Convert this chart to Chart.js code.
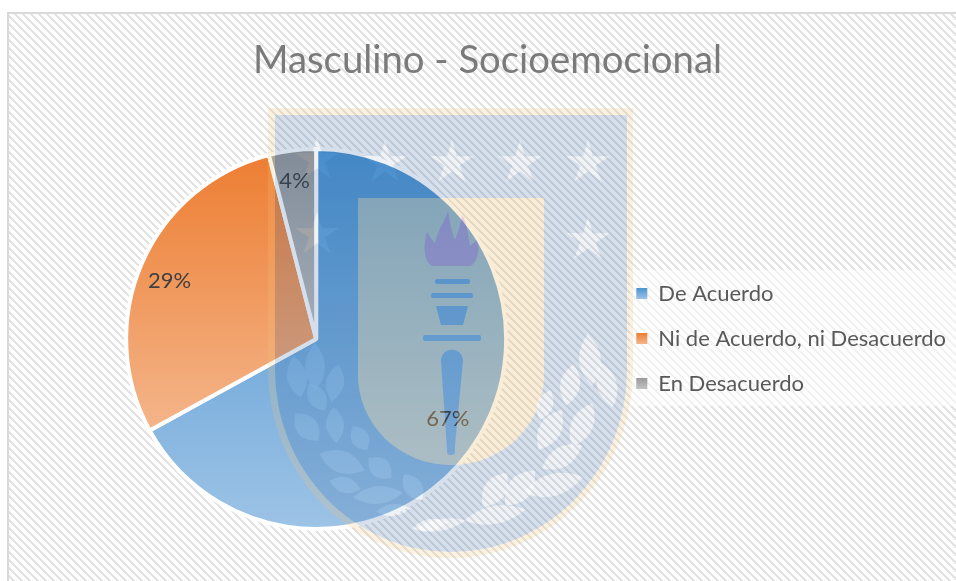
<!DOCTYPE html>
<html><head><meta charset="utf-8">
<style>html,body{margin:0;padding:0;background:#fff}canvas{display:block}</style>
<script src="https://cdn.jsdelivr.net/npm/chart.js@4"></script>
</head><body>
<div style="width:956px;height:581px"><canvas id="c" width="956" height="581"></canvas></div>
<script>
const titleText = "Masculino - Socioemocional";
const categories = ["De Acuerdo", "Ni de Acuerdo, ni Desacuerdo", "En Desacuerdo"];
const values = [67, 29, 4];
const labelsPct = ["67%", "29%", "4%"];
const gradTop = ["#4c93d0", "#ed7d31", "#9a9a9a"];
const gradBottom = ["#9dc3e6", "#f4b58a", "#c2c2c2"];
const gradSpan = [1, 0.74, 0.5];
const legendBoxY = [288, 333, 378];

function stripePattern(ctx){
  const t=document.createElement('canvas');t.width=8;t.height=8;
  const g=t.getContext('2d');g.fillStyle='#fff';g.fillRect(0,0,8,8);
  g.fillStyle='#e3e3e3';
  for(let i=0;i<8;i++){for(let k=0;k<3;k++){g.fillRect((i+k)%8,i,1,1);}}
  return ctx.createPattern(t,'repeat');
}
function buildWatermark(){
  const o=document.createElement('canvas');o.width=956;o.height=581;
  const g=o.getContext('2d');
  const shield=(l,t,r,b,sy)=>{const cx=(l+r)/2,rx=(r-l)/2;
    g.beginPath();g.moveTo(l,t);g.lineTo(r,t);g.lineTo(r,sy);
    g.ellipse(cx,sy,rx,b-sy,0,0,Math.PI);g.closePath();};
  const paint=c=>{g.globalCompositeOperation='destination-out';g.fillStyle='#000';g.fill();
    g.globalCompositeOperation='source-over';g.fillStyle=c;g.fill();};
  const ORANGE='rgba(240,195,125,.22)',PANEL='rgba(240,195,125,.3)',BLUE='rgba(26,84,150,.18)',FLAME='rgba(192,115,167,.4)';
  shield(268,108,633,558,370);paint(ORANGE);
  shield(275,115,627,552,370);paint(BLUE);
  shield(358,198,544,465,375);paint(PANEL);
  const cut=()=>{g.globalCompositeOperation='destination-out';g.fillStyle='rgba(0,0,0,.6)';g.fill();g.globalCompositeOperation='source-over';};
  const star=(x,y,R)=>{g.beginPath();for(let i=0;i<10;i++){const r=i%2?R*.36:R,a=-Math.PI/2+i*Math.PI/5;
    g[i?'lineTo':'moveTo'](x+r*Math.cos(a),y+r*Math.sin(a));}g.closePath();cut();};
  [[317,160],[385,163],[452,163],[520,163],[588,163],[317,235],[588,240]].forEach(s=>star(s[0],s[1],23));
  const leaf=(x,y,len,w,ang)=>{g.save();g.translate(x,y);g.rotate(ang*Math.PI/180);g.beginPath();
    g.moveTo(-len/2,0);g.quadraticCurveTo(0,-w,len/2,0);g.quadraticCurveTo(0,w,-len/2,0);g.closePath();g.restore();cut();};
  const L=[[297,377,42,20,80],[315,367,48,20,90],[335,383,38,18,100],[317,397,32,18,60],[307,427,36,22,50],[335,425,36,18,85],
    [360,438,28,18,60],[342,462,48,22,20],[380,468,30,20,40],[345,485,32,16,15],[378,495,50,18,-5],[413,487,32,18,55],[393,510,34,12,-5],[430,525,36,12,-10]];
  const R=[[590,360,52,22,85],[607,385,46,20,75],[570,385,42,20,100],[550,430,46,22,120],[582,425,48,22,115],[545,405,32,16,110],
    [562,457,46,20,150],[553,485,62,22,165],[520,488,46,24,130],[495,490,42,22,125],[495,515,62,18,170],[440,525,52,12,170]];
  L.concat(R).forEach(l=>leaf(l[0],l[1],l[2],l[3],l[4]));
  // torch
  const rect=(x,y,w,h,r)=>{g.beginPath();g.roundRect(x,y,w,h,r);};
  rect(435,279,35,5,2);paint(BLUE);rect(431,293,42,5,2);paint(BLUE);
  g.beginPath();g.moveTo(436,306);g.lineTo(468,306);g.lineTo(463,325);g.lineTo(441,325);g.closePath();paint(BLUE);
  rect(423,335,58,6,2);paint(BLUE);
  g.beginPath();g.moveTo(441,361);g.bezierCurveTo(441,346,463,346,463,361);g.lineTo(455,445);g.arc(451,451,4,-0.2,Math.PI+0.2);g.lineTo(441,361);g.closePath();paint(BLUE);
  g.beginPath();g.moveTo(432,266);g.bezierCurveTo(424,262,423,245,427,232);g.lineTo(435,244);
  g.bezierCurveTo(437,230,445,222,448,211);g.bezierCurveTo(450,225,452,232,455,240);
  g.bezierCurveTo(458,232,461,225,462,215);g.bezierCurveTo(468,225,468,238,470,246);
  g.lineTo(477,240);g.bezierCurveTo(480,250,478,262,470,266);g.closePath();paint(FLAME);
  return o;
}
const scenery={id:'scenery',
  beforeDraw(c){const x=c.ctx;x.save();
    x.fillStyle='#fff';x.fillRect(0,0,956,581);
    x.fillStyle=stripePattern(x);x.fillRect(7,12,949,569);
    x.fillStyle='rgba(255,255,255,.55)';x.fillRect(630,270,326,136);
    x.fillStyle='#d9d9d9';x.fillRect(7,12,949,2);x.fillRect(7,12,2,569);
    x.restore();},
  afterLayout(c){c.legend.left+=5;c.legend.right+=5;c.legend.top+=75;c.legend.bottom+=75;},
  afterDatasetsDraw(c){const x=c.ctx,m=c.getDatasetMeta(0);x.save();
    x.font='22px Lato';x.fillStyle='#404040';x.textAlign='center';x.textBaseline='middle';
    const f=[.81,.83,.84],shift=[0.01,-0.03,-0.01];
    m.data.forEach((a,i)=>{const mid=(a.startAngle+a.endAngle)/2+shift[i];
      x.fillText(labelsPct[i],a.x+Math.cos(mid)*a.outerRadius*f[i],a.y+Math.sin(mid)*a.outerRadius*f[i]);});
    x.restore();},
  afterDraw(c){const x=c.ctx;x.save();x.filter='blur(0.6px)';x.drawImage(buildWatermark(),0,0);x.restore();}
};
new Chart(document.getElementById('c'),{
  type:'pie',
  data:{labels:categories,datasets:[{data:values,radius:190,borderColor:'#fff',borderWidth:4,
    backgroundColor(cx){const a=cx.chart.chartArea,i=cx.dataIndex;if(!a)return gradTop[i];
      const gr=cx.chart.ctx.createLinearGradient(0,a.top,0,a.top+(a.bottom-a.top)*gradSpan[i]);
      gr.addColorStop(0,gradTop[i]);gr.addColorStop(1,gradBottom[i]);return gr;}}]},
  options:{responsive:false,animation:false,rotation:0,
    layout:{padding:{left:24,right:5,top:0,bottom:54}},
    plugins:{tooltip:{enabled:false},
      title:{display:true,text:titleText,color:'#7a7a7a',font:{family:'Lato',size:38.3,weight:'400'},padding:{top:38,bottom:67}},
      legend:{position:'right',labels:{boxWidth:11,boxHeight:11,padding:23,color:'#595959',
        font:{family:'Lato',size:22},
        generateLabels(ch){const x=ch.ctx;return categories.map((t,i)=>{
          const gr=x.createLinearGradient(0,legendBoxY[i],0,legendBoxY[i]+11);
          gr.addColorStop(0,gradTop[i]);gr.addColorStop(1,gradBottom[i]);
          return {text:t,fontColor:'#595959',fillStyle:gr,strokeStyle:'#fff',lineWidth:0,index:i,hidden:false};});}}}
    }},
  plugins:[scenery]
});
</script></body></html>
